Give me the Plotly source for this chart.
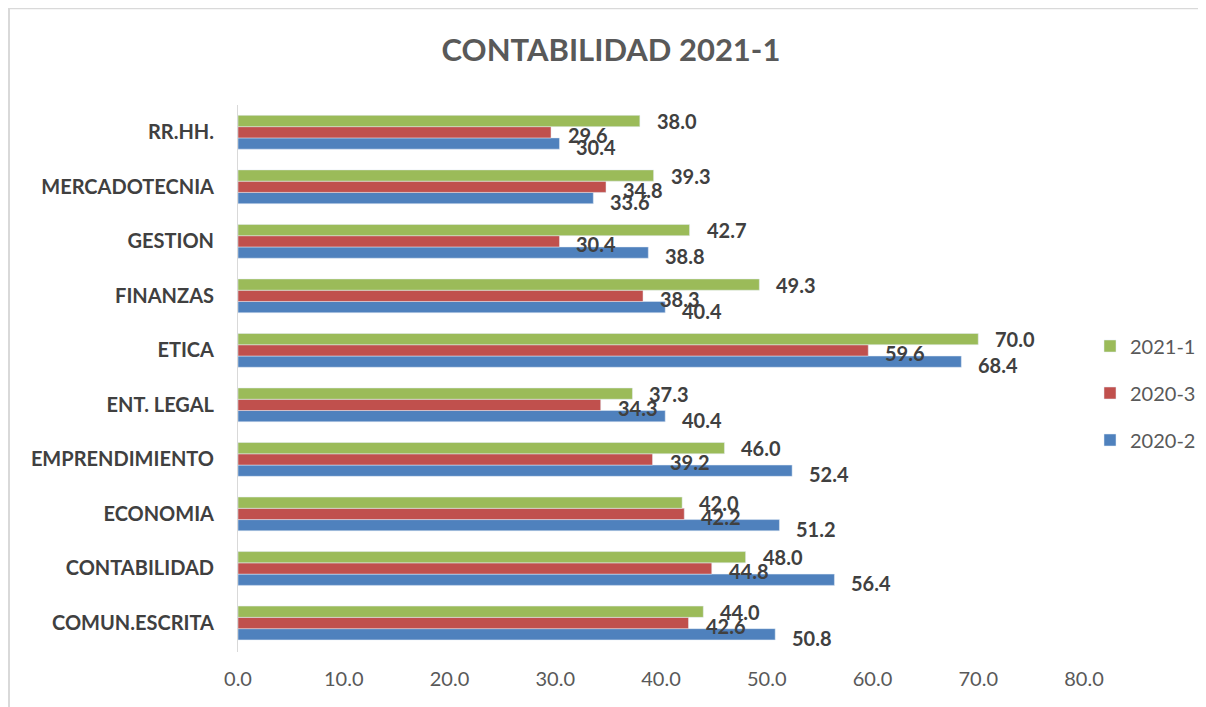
import plotly.graph_objects as go

categories = ["COMUN.ESCRITA", "CONTABILIDAD", "ECONOMIA", "EMPRENDIMIENTO", "ENT. LEGAL",
              "ETICA", "FINANZAS", "GESTION", "MERCADOTECNIA", "RR.HH."]
s2020_2 = [50.8, 56.4, 51.2, 52.4, 40.4, 68.4, 40.4, 38.8, 33.6, 30.4]
s2020_3 = [42.6, 44.8, 42.2, 39.2, 34.3, 59.6, 38.3, 30.4, 34.8, 29.6]
s2021_1 = [44.0, 48.0, 42.0, 46.0, 37.3, 70.0, 49.3, 42.7, 39.3, 38.0]
tick_vals = [0, 10, 20, 30, 40, 50, 60, 70, 80]
tick_text = ["0.0", "10.0", "20.0", "30.0", "40.0", "50.0", "60.0", "70.0", "80.0"]

FONT = "Lato, 'Open Sans', sans-serif"
series = [
    ("2020-2", s2020_2, "#4F81BD", -15, 3),
    ("2020-3", s2020_3, "#C0504D", -3, 2),
    ("2021-1", s2021_1, "#9BBB59", 11, 1),
]

FW, FH = 1198, 699
PW, PH = 846, 543  # plot area size in px

fig = go.Figure()
annotations = []
for name, vals, color, ys, rank in series:
    fig.add_trace(go.Bar(
        y=categories, x=vals, name=name, orientation="h",
        marker=dict(color=color), legendgroup=name, legendrank=rank,
        hoverinfo="x+name",
    ))
    for c, v in zip(categories, vals):
        annotations.append(dict(
            x=v, y=c, xref="x", yref="y", text=f"{v:.1f}", showarrow=False,
            xanchor="left", yanchor="middle", xshift=15, yshift=ys,
            font=dict(family=FONT, size=20, color="#404040", weight="bold"),
        ))

fig.update_layout(
    width=FW, height=FH,
    paper_bgcolor="white", plot_bgcolor="white",
    margin=dict(l=230, r=122, t=97, b=55),
    barmode="group", bargap=0.38, bargroupgap=0,
    title=dict(text="<b>CONTABILIDAD 2021-1</b>", x=(611 - 8) / FW, xanchor="center",
               y=1 - (50 - 8) / FH, yanchor="middle",
               font=dict(family=FONT, size=31, color="#595959")),
    xaxis=dict(range=[0, 80], tickvals=tick_vals, ticktext=tick_text,
               showgrid=False, zeroline=False, showline=False, ticks="",
               automargin=False,
               tickfont=dict(family=FONT, size=20, color="#595959"),
               ticklabelstandoff=13),
    yaxis=dict(showgrid=False, zeroline=False, showline=True, linecolor="#D9D9D9",
               linewidth=1, ticks="", ticklabelstandoff=19, automargin=False,
               tickfont=dict(family=FONT, size=20, color="#404040", weight="bold")),
    legend=dict(xref="container", yref="container",
                x=(1090 - 8) / FW, y=1 - (393 - 8) / FH, xanchor="left", yanchor="middle",
                traceorder="grouped", tracegroupgap=18,
                font=dict(family=FONT, size=20, color="#595959"),
                itemwidth=30),
    annotations=annotations,
    shapes=[dict(type="rect", xref="paper", yref="paper",
                 x0=-229 / PW, x1=1 + 130 / PW, y0=-70 / PH, y1=1 + 96 / PH,
                 line=dict(color="#D9D9D9", width=2), fillcolor="rgba(0,0,0,0)")],
)

fig.write_html("out.html")
